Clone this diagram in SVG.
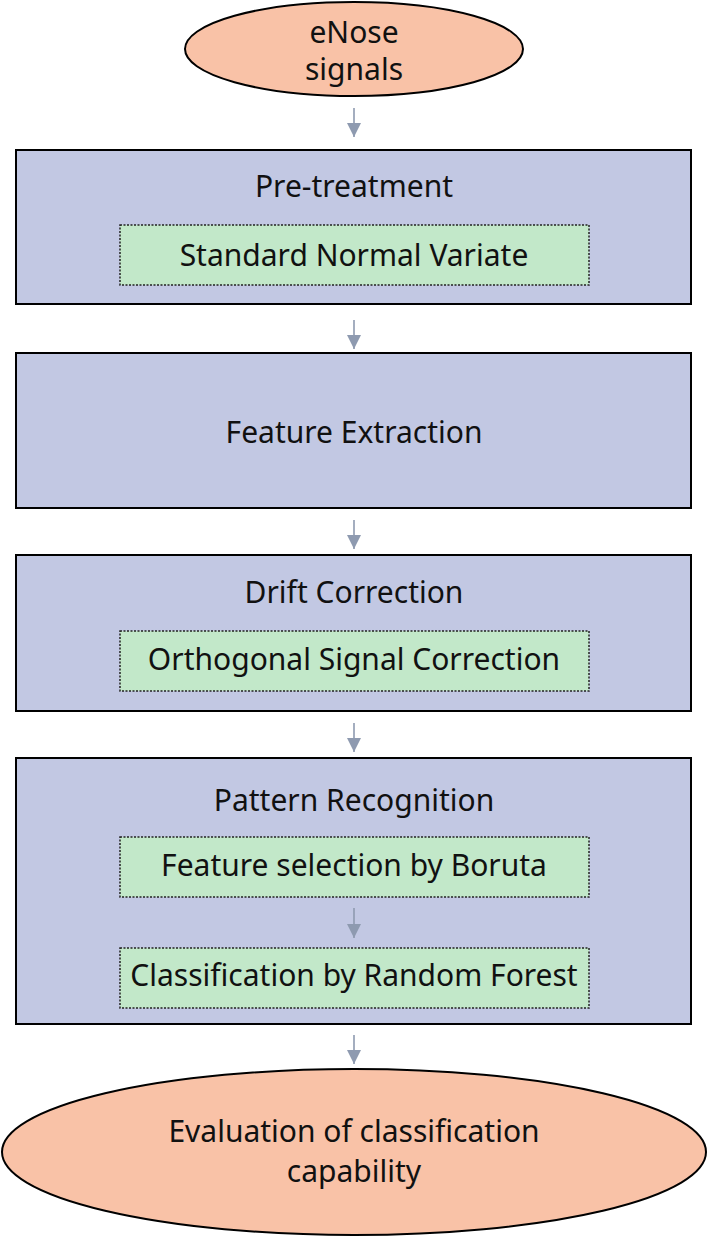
<svg xmlns="http://www.w3.org/2000/svg" width="709" height="1237" viewBox="0 0 709 1237">
<style>
.oval{fill:#F9C2A7;stroke:#000;stroke-width:2}
.box{fill:#C2C8E3;stroke:#000;stroke-width:2}
.sub{fill:#C2E8C9;stroke:#222;stroke-width:1.5;stroke-dasharray:2 1.5}
.t{font-family:"Noto Sans","Open Sans",sans-serif;font-size:30px;fill:#111;text-anchor:middle;dominant-baseline:central}
.c{stroke:#8E9AB0;stroke-width:1.6;fill:none}
</style>
<defs>
<marker id="ah" markerWidth="10" markerHeight="9" refX="9" refY="4.5" orient="auto" markerUnits="strokeWidth">
<path d="M0,0 L9,4.5 L0,9 Z" fill="#8E9AB0"/>
</marker>
</defs>
<rect width="709" height="1237" fill="#fff"/>
<g id="n-enose">
<ellipse class="oval" cx="354" cy="49" rx="169" ry="47"/>
<text class="t" x="354" y="31">eNose</text>
<text class="t" x="354" y="68">signals</text>
</g>
<g id="n-pretreatment">
<rect class="box" x="16" y="150" width="675" height="154"/>
<text class="t" x="354" y="185">Pre-treatment</text>
</g>
<g id="n-snv">
<rect class="sub" x="120" y="225" width="469" height="60"/>
<text class="t" x="354" y="254">Standard Normal Variate</text>
</g>
<g id="n-feature">
<rect class="box" x="16" y="353" width="675" height="155"/>
<text class="t" x="354" y="431">Feature Extraction</text>
</g>
<g id="n-drift">
<rect class="box" x="16" y="555" width="675" height="156"/>
<text class="t" x="354" y="591">Drift Correction</text>
</g>
<g id="n-osc">
<rect class="sub" x="120" y="631" width="469" height="60"/>
<text class="t" x="354" y="658">Orthogonal Signal Correction</text>
</g>
<g id="n-pattern">
<rect class="box" x="16" y="758" width="675" height="266"/>
<text class="t" x="354" y="799">Pattern Recognition</text>
</g>
<g id="n-boruta">
<rect class="sub" x="120" y="837" width="469" height="60"/>
<text class="t" x="354" y="864">Feature selection by Boruta</text>
</g>
<g id="n-rf">
<rect class="sub" x="120" y="948" width="469" height="60"/>
<text class="t" x="354" y="974">Classification by Random Forest</text>
</g>
<g id="n-eval">
<ellipse class="oval" cx="354" cy="1152" rx="352" ry="83"/>
<text class="t" x="354" y="1130">Evaluation of classification</text>
<text class="t" x="354" y="1170">capability</text>
</g>
<g id="connectors">
<line class="c" x1="354" y1="108" x2="354" y2="137" marker-end="url(#ah)"/>
<line class="c" x1="354" y1="320" x2="354" y2="349" marker-end="url(#ah)"/>
<line class="c" x1="354" y1="520" x2="354" y2="549" marker-end="url(#ah)"/>
<line class="c" x1="354" y1="723" x2="354" y2="752" marker-end="url(#ah)"/>
<line class="c" x1="354" y1="908" x2="354" y2="938" marker-end="url(#ah)"/>
<line class="c" x1="354" y1="1035" x2="354" y2="1064" marker-end="url(#ah)"/>
</g>
</svg>
